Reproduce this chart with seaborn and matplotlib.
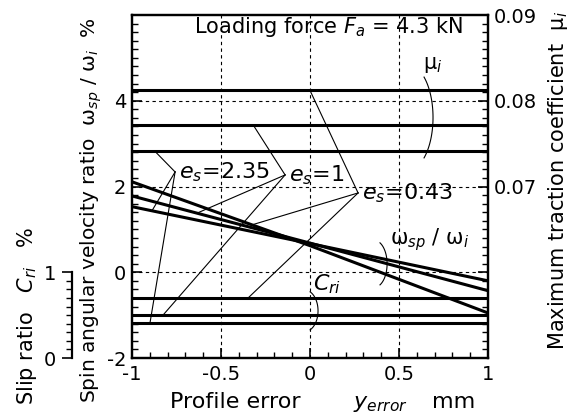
import numpy as np
import pandas as pd
import matplotlib
matplotlib.use('Agg')
import matplotlib.pyplot as plt
from matplotlib.ticker import MultipleLocator, FixedLocator, FuncFormatter
import seaborn as sns

# values
x_err = [-1.0, 0.0, 1.0]
es_names = ['0.43', '1', '2.35']
spin_043 = [2.11, 0.62, -0.95]
spin_1 = [1.78, 0.68, -0.43]
spin_235 = [1.53, 0.67, -0.20]
mu_i = [0.0812, 0.0772, 0.0741]     # max traction coefficient, same order as es_names
c_ri = [0.70, 0.50, 0.41]           # slip ratio %

plt.rcParams.update({
    'font.family': ['DejaVu Sans'],
    'mathtext.fontset': 'dejavusans',
    'xtick.direction': 'in', 'ytick.direction': 'in',
    'xtick.major.size': 7, 'ytick.major.size': 7,
    'xtick.minor.size': 4, 'ytick.minor.size': 4,
    'xtick.major.width': 1.2, 'ytick.major.width': 1.2,
    'xtick.minor.width': 1.0, 'ytick.minor.width': 1.0,
    'xtick.color': 'k', 'ytick.color': 'k',
    'axes.linewidth': 1.6, 'axes.edgecolor': 'k',
})

spin = {'0.43': spin_043, '1': spin_1, '2.35': spin_235}
rows = []
for e in es_names:
    for xv, yv in zip(x_err, spin[e]):
        rows.append({'x': xv, 'spin': yv, 'es': e})
df = pd.DataFrame(rows)

fig = plt.figure(figsize=(5.86, 4.16), dpi=100)
ax = fig.add_axes([0.2253, 0.1394, 0.6075, 0.8245])
fs = 14
fl = 15

def mu_to_left(m):
    return (m - 0.05) / 0.005 - 2

def c_to_left(c):
    return 2 * c - 2

def bracket(cx, cy, a, b, th):
    t = np.radians(np.linspace(-th, th, 40))
    ax.plot(cx + a * np.cos(t), cy + b * np.sin(t), color='k', lw=0.8)

# dashed grid
for gx in [-0.5, 0.0, 0.5]:
    ax.axvline(gx, ls=(0, (3, 3)), lw=0.8, color='k', zorder=1)
for gy in [0, 2, 4]:
    ax.axhline(gy, ls=(0, (3, 3)), lw=0.8, color='k', zorder=1)

sns.lineplot(data=df, x='x', y='spin', hue='es', palette=['k', 'k', 'k'],
             lw=2.2, legend=False, ax=ax, zorder=3)
ax.set_xlim(-1, 1)
ax.set_ylim(-2, 6)
ax.set_xlabel('')
ax.set_ylabel('')
ax.xaxis.set_major_locator(MultipleLocator(0.5))
ax.xaxis.set_minor_locator(MultipleLocator(0.1))
ax.yaxis.set_major_locator(FixedLocator([-2, 0, 2, 4, 6]))
ax.yaxis.set_minor_locator(MultipleLocator(0.2))
ax.yaxis.set_major_formatter(FuncFormatter(lambda v, p: '' if v > 5 else f'{v:g}'))
ax.xaxis.set_major_formatter(FuncFormatter(lambda v, p: f'{v:g}'))
ax.tick_params(axis='both', which='both', top=False, right=False, labelsize=fs)
ax.tick_params(axis='x', which='major', pad=5)
ax.tick_params(axis='y', which='major', pad=4)

# maximum traction coefficient (right axis)
ax2 = ax.twinx()
for m in mu_i:
    sns.lineplot(x=[-1, 1], y=[m, m], color='k', lw=2.2, ax=ax2)
ax2.set_ylim(0.05, 0.09)
ax2.yaxis.set_major_locator(MultipleLocator(0.01))
ax2.yaxis.set_minor_locator(MultipleLocator(0.001))
ax2.yaxis.set_major_formatter(FuncFormatter(lambda v, p: f'{v:.2f}' if v > 0.065 else ''))
ax2.tick_params(axis='y', which='both', labelsize=fs, pad=4)
ax2.set_ylabel('')

# slip ratio (offset left axis)
ax3 = ax.twinx()
for c in c_ri:
    sns.lineplot(x=[-1, 1], y=[c, c], color='k', lw=2.2, ax=ax3)
ax3.set_ylim(0, 4)
ax3.set_ylabel('')
for k in ['top', 'right', 'bottom']:
    ax3.spines[k].set_visible(False)
ax3.spines['left'].set_visible(True)
ax3.spines['left'].set_position(('axes', -0.17))
ax3.spines['left'].set_bounds(0, 1)
ax3.yaxis.set_ticks_position('left')
ax3.yaxis.set_major_locator(FixedLocator([0, 1]))
ax3.yaxis.set_minor_locator(FixedLocator(np.arange(0.1, 1.0, 0.1)))
ax3.tick_params(axis='y', which='both', direction='out', labelsize=fs, pad=4)

# leader lines from e_s labels
apex = {'2.35': (-0.758, 2.34), '1': (-0.14, 2.27), '0.43': (0.27, 1.85)}
ends = {'2.35': (-0.871, -0.888, -0.899), '1': (-0.32, -0.635, -0.826),
        '0.43': (0.0, -0.326, -0.348)}
for i, e in enumerate(es_names):
    axp, ayp = apex[e]
    xm, xs, xc = ends[e]
    targets = [(xm, mu_to_left(mu_i[i])),
               (xs, np.interp(xs, x_err, spin[e])),
               (xc, c_to_left(c_ri[i]))]
    for tx, ty in targets:
        ax.plot([axp, tx], [ayp, ty], color='k', lw=0.8)
    ax.text(axp + 0.02, ayp, f'$e_s$={e}', fontsize=fl + 1, ha='left', va='center')

# brackets and curve labels
bracket(0.55, 3.61, 0.141, 1.23, 50)
bracket(0.36, 0.196, 0.073, 0.55, 63)
bracket(-0.03, -0.9, 0.075, 0.485, 66)
ax.text(0.69, 4.83, 'μ$_i$', fontsize=fl, ha='center', va='center')
ax.text(0.674, 0.755, 'ω$_{sp}$ / ω$_i$', fontsize=fl, ha='center', va='center')
ax.text(0.096, -0.29, '$C_{ri}$', fontsize=fl + 1, ha='center', va='center')
ax.text(0.93, 0.965, 'Loading force $F_a$ = 4.3 kN', transform=ax.transAxes,
        fontsize=fl, ha='right', va='center')

# axis titles
fig.text(0.156, 0.495, 'Spin angular velocity ratio  ω$_{sp}$ / ω$_i$  %',
         rotation=90, fontsize=fl - 0.5, ha='center', va='center')
fig.text(0.046, 0.24, 'Slip ratio   $C_{ri}$   %', rotation=90,
         fontsize=fl, ha='center', va='center')
fig.text(0.952, 0.567, 'Maximum traction coefficient  μ$_i$', rotation=90,
         fontsize=fl, ha='center', va='center')
fig.text(170 / 586, 0.034, 'Profile error', fontsize=fl + 1, ha='left', va='center')
fig.text(353 / 586, 0.030, '$y_{error}$', fontsize=fl + 1, ha='left', va='center')
fig.text(432 / 586, 0.034, 'mm', fontsize=fl + 1, ha='left', va='center')

fig.savefig('out.png', dpi=100)
